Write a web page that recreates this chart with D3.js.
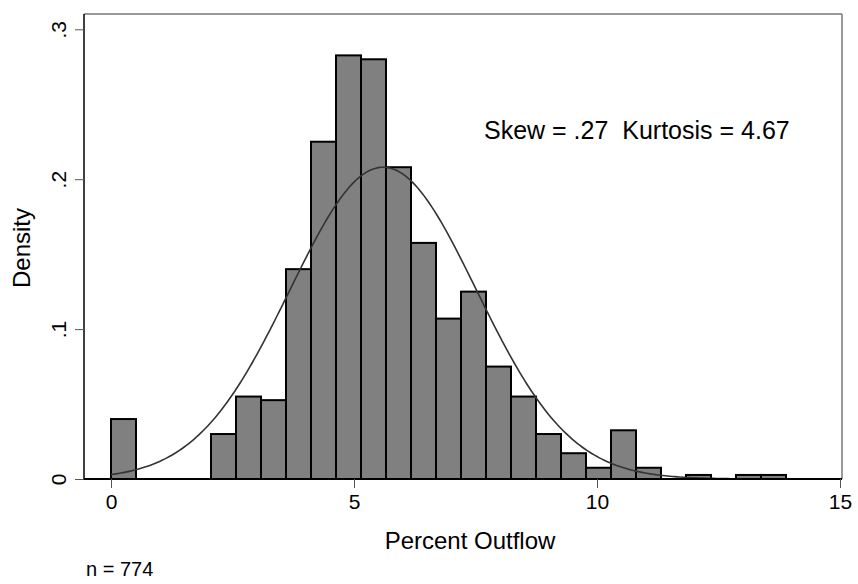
<!DOCTYPE html>
<html><head><meta charset="utf-8">
<script src="https://cdn.jsdelivr.net/npm/d3@7"></script>
<style>body{margin:0;background:#fff;} text{font-family:"Liberation Sans",Arial,sans-serif;fill:#000;}</style>
</head><body>
<script>
// histogram bins (width in percent units) and densities
const binStart = 0;
const binWidth = 0.5144;
const densities = [0.040, 0, 0, 0, 0.030, 0.055, 0.0526, 0.140, 0.225, 0.2826, 0.280, 0.208,
  0.1575, 0.107, 0.125, 0.075, 0.055, 0.030, 0.0172, 0.0075, 0.0325, 0.0075, 0, 0.0027, 0, 0.0027, 0.0027];
const xTicks = [0, 5, 10, 15];
const yTicks = [0, 0.1, 0.2, 0.3];
const yTickLabels = ["0", ".1", ".2", ".3"];
const normMean = 5.6;
const normSd = 1.918;

const W = 858, H = 584;
const svg = d3.select("body").append("svg").attr("width", W).attr("height", H);

const x = d3.scaleLinear().domain([0, 15]).range([111, 840]);
const y = d3.scaleLinear().domain([0, 0.3]).range([479, 29.3]);
const pLeft = 84, pRight = 842, pTop = 14, pBottom = 479;

// frame
svg.append("line").attr("x1", pLeft).attr("x2", pRight).attr("y1", pTop).attr("y2", pTop).attr("stroke", "#777").attr("stroke-width", 1.5);
svg.append("line").attr("x1", pRight).attr("x2", pRight).attr("y1", pTop).attr("y2", pBottom).attr("stroke", "#777").attr("stroke-width", 1.5);

// bars
svg.selectAll("rect.bar").data(densities).join("rect")
  .attr("class", "bar")
  .attr("x", (d, i) => x(binStart + i * binWidth))
  .attr("width", x(binWidth) - x(0))
  .attr("y", d => y(d))
  .attr("height", d => y(0) - y(d))
  .attr("fill", "#808080").attr("stroke", "#000").attr("stroke-width", 2);

// normal curve
const pts = d3.range(0, 15.001, 0.05).map(v => [v, Math.exp(-0.5 * ((v - normMean) / normSd) ** 2) / (normSd * Math.sqrt(2 * Math.PI))]);
svg.append("path").datum(pts)
  .attr("d", d3.line().x(d => x(d[0])).y(d => y(d[1])))
  .attr("fill", "none").attr("stroke", "#333").attr("stroke-width", 1.6);

svg.append("line").attr("x1", pLeft).attr("x2", pLeft).attr("y1", pTop).attr("y2", pBottom).attr("stroke", "#000").attr("stroke-width", 1.5);
svg.append("line").attr("x1", pLeft).attr("x2", pRight).attr("y1", pBottom).attr("y2", pBottom).attr("stroke", "#000").attr("stroke-width", 2);

// axes
const xAxis = svg.append("g").attr("transform", `translate(0,${pBottom})`)
  .call(d3.axisBottom(x).tickValues(xTicks).tickSize(9).tickPadding(6).tickFormat(d3.format("d")));
xAxis.select(".domain").remove();
xAxis.selectAll("line").attr("stroke", "#555");
xAxis.selectAll("text").attr("font-size", 21).style("font-family", "Liberation Sans, Arial");

const yAxis = svg.append("g").attr("transform", `translate(${pLeft},0)`)
  .call(d3.axisLeft(y).tickValues(yTicks).tickSize(9).tickFormat((d, i) => yTickLabels[i]));
yAxis.select(".domain").remove();
yAxis.selectAll("line").attr("stroke", "#555");
yAxis.selectAll("text").attr("font-size", 21).style("font-family", "Liberation Sans, Arial")
  .attr("text-anchor", "middle").attr("x", 0).attr("y", 0).attr("dy", 0)
  .attr("transform", "translate(-18,0) rotate(-90)");

svg.append("text").attr("x", 470).attr("y", 549).attr("text-anchor", "middle").attr("font-size", 24).text("Percent Outflow");
svg.append("text").attr("transform", "translate(30,248) rotate(-90)").attr("text-anchor", "middle").attr("font-size", 24).text("Density");
svg.append("text").attr("x", 86).attr("y", 576).attr("font-size", 20).text("n = 774");
svg.append("text").attr("x", 484).attr("y", 139).attr("font-size", 25).style("white-space", "pre").text("Skew = .27  Kurtosis = 4.67");
</script>
</body></html>
